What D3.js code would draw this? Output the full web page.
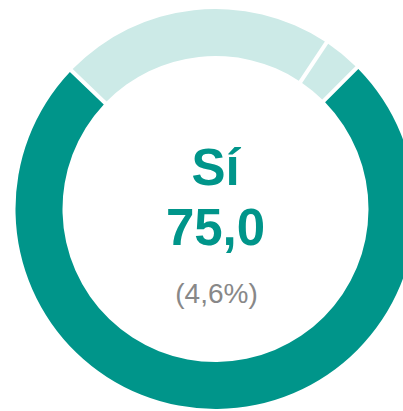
<!DOCTYPE html>
<html>
<head>
<meta charset="utf-8">
<script src="https://cdn.jsdelivr.net/npm/d3@7"></script>
<style>
  html, body { margin: 0; padding: 0; background: #fff; }
  svg { display: block; }
</style>
</head>
<body>
<svg id="chart" width="403" height="411"></svg>
<script>
// Donut: share answering "Sí", with the rest in lighter tones.
const categories = ['Sí', 'No', 'NS/NC'];
const values = [75.0, 22.1, 2.9];
const colors = ['#00958a', '#cceae7', '#cceae7'];

const headline = 'Sí';
const headlineValue = '75,0';
const errorLabel = '(4,6%)';

const width = 403, height = 411;
const cx = 215.5, cy = 209;
const outerR = 200, innerR = 153;

const svg = d3.select('#chart');
const g = svg.append('g').attr('transform', `translate(${cx},${cy})`);

const pie = d3.pie()
    .sort(null)
    .value(d => d.value)
    .startAngle(Math.PI / 4)
    .endAngle(Math.PI / 4 + 2 * Math.PI)
    .padAngle(0.016);

const arc = d3.arc().innerRadius(innerR).outerRadius(outerR);

const data = categories.map((c, i) => ({ name: c, value: values[i], color: colors[i] }));

g.selectAll('path')
  .data(pie(data))
  .join('path')
    .attr('d', arc)
    .attr('fill', d => d.data.color);

const font = "'Liberation Sans', Arial, sans-serif";

g.append('text')
    .attr('x', 0).attr('y', 185 - cy)
    .attr('text-anchor', 'middle')
    .attr('font-family', font)
    .attr('font-weight', 'bold')
    .attr('font-size', 51)
    .attr('fill', colors[0])
    .text(headline);

g.append('text')
    .attr('x', 0).attr('y', 245 - cy)
    .attr('text-anchor', 'middle')
    .attr('font-family', font)
    .attr('font-weight', 'bold')
    .attr('font-size', 51)
    .attr('fill', colors[0])
    .text(headlineValue);

g.append('text')
    .attr('x', 1).attr('y', 303 - cy)
    .attr('text-anchor', 'middle')
    .attr('font-family', font)
    .attr('font-size', 28)
    .attr('fill', '#888888')
    .text(errorLabel);
</script>
</body>
</html>
